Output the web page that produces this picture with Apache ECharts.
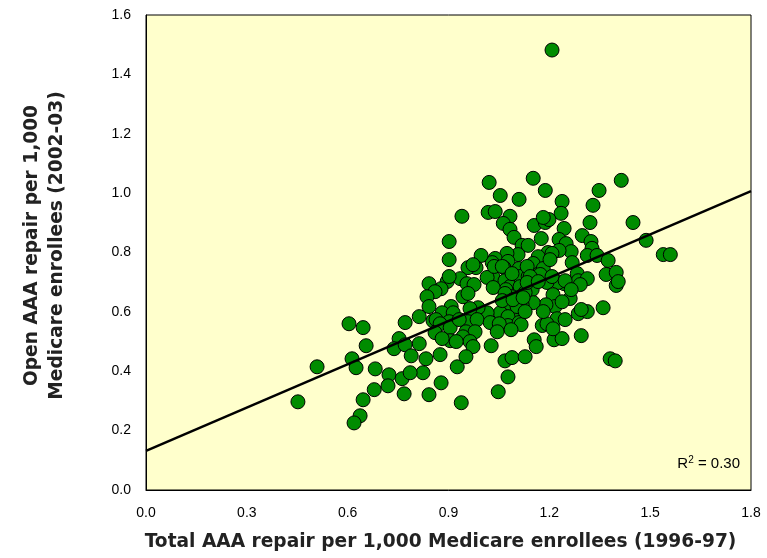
<!DOCTYPE html>
<html>
<head>
<meta charset="utf-8">
<script src="https://cdn.jsdelivr.net/npm/echarts@6/dist/echarts.min.js"></script>
<style>
  html, body { margin: 0; padding: 0; background: #fff; }
  #chart { width: 767px; height: 558px; }
</style>
</head>
<body>
<div id="chart"></div>
<script>
// total AAA repair 1996-97 (x) and open AAA repair 2002-03 (y), per 1,000 enrollees
const totalRepair = [
  1.208, 1.021, 1.152, 1.414, 1.054, 1.110, 1.188, 1.238, 1.348, 1.330,
  1.235, 1.449, 0.940, 1.018, 1.039, 1.083, 1.063, 1.083, 1.155, 1.188,
  1.199, 1.182, 1.244, 1.321, 1.298, 1.095, 1.176, 1.229, 1.119, 1.137,
  1.324, 1.488, 0.902, 1.250, 0.902, 1.327, 1.265, 1.229, 1.196, 1.208,
  1.167, 1.152, 1.107, 1.074, 1.039, 1.030, 0.997, 0.982, 0.958, 1.077,
  1.110, 1.065, 1.033, 1.015, 0.935, 0.896, 0.955, 0.976, 0.878, 0.943,
  1.068, 1.113, 1.137, 1.170, 1.182, 1.268, 1.283, 1.286, 1.313, 1.292,
  1.244, 1.226, 1.193, 1.083, 1.113, 1.071, 1.149, 1.211, 1.262, 1.217,
  1.190, 1.152, 1.119, 1.074, 1.054, 1.104, 1.104, 1.077, 1.015, 0.988,
  0.964, 0.908, 0.958, 0.985, 1.024, 1.077, 1.110, 1.179, 1.223, 1.247,
  1.286, 1.313, 1.089, 1.128, 1.033, 1.313, 1.342, 1.375, 1.369, 1.399,
  1.399, 1.360, 1.539, 1.560, 1.036, 1.060, 0.973, 1.134, 0.842, 0.902,
  1.202, 1.173, 1.143, 1.208, 1.247, 1.405, 0.860, 0.836, 0.958, 0.842,
  0.881, 0.914, 0.813, 0.854, 0.902, 0.771, 0.604, 0.646, 1.089, 1.134,
  1.068, 1.060, 1.092, 1.122, 0.863, 0.875, 0.905, 0.932, 1.051, 0.860,
  0.952, 0.979, 0.905, 0.943, 0.964, 0.973, 0.923, 0.881, 1.027, 1.045,
  0.813, 0.833, 0.875, 0.926, 1.068, 1.089, 1.128, 0.824, 1.077, 0.655,
  0.753, 0.738, 0.771, 0.509, 0.613, 0.625, 0.682, 0.789, 0.952, 0.723,
  0.762, 0.786, 0.878, 0.679, 0.720, 0.768, 0.842, 0.452, 0.646, 0.637,
  0.619, 0.938, 1.048, 1.155, 1.161, 1.214, 1.238, 1.295, 1.193, 1.211,
  1.295, 1.116, 1.086, 1.381, 1.396, 1.167, 1.265, 1.238, 1.182, 1.128
];
const openRepair = [
  1.482, 1.036, 1.050, 1.043, 0.992, 0.979, 1.009, 0.972, 1.009, 0.959,
  0.932, 0.901, 0.922, 0.935, 0.938, 0.922, 0.898, 0.878, 0.891, 0.901,
  0.911, 0.918, 0.881, 0.901, 0.857, 0.851, 0.847, 0.844, 0.824, 0.824,
  0.837, 0.841, 0.837, 0.830, 0.776, 0.814, 0.803, 0.807, 0.800, 0.797,
  0.786, 0.763, 0.793, 0.797, 0.780, 0.766, 0.790, 0.749, 0.749, 0.770,
  0.746, 0.749, 0.716, 0.716, 0.712, 0.702, 0.695, 0.692, 0.678, 0.651,
  0.705, 0.719, 0.719, 0.729, 0.746, 0.766, 0.729, 0.705, 0.712, 0.692,
  0.695, 0.699, 0.699, 0.685, 0.685, 0.675, 0.675, 0.658, 0.645, 0.618,
  0.624, 0.631, 0.624, 0.618, 0.597, 0.591, 0.618, 0.584, 0.597, 0.614,
  0.611, 0.618, 0.567, 0.574, 0.564, 0.554, 0.564, 0.554, 0.577, 0.574,
  0.594, 0.601, 0.651, 0.665, 0.682, 0.790, 0.790, 0.773, 0.726, 0.733,
  0.689, 0.614, 0.793, 0.793, 0.753, 0.753, 0.759, 0.753, 0.695, 0.719,
  0.776, 0.726, 0.719, 0.719, 0.705, 0.702, 0.668, 0.651, 0.662, 0.618,
  0.597, 0.597, 0.584, 0.570, 0.567, 0.564, 0.560, 0.547, 0.729, 0.699,
  0.662, 0.638, 0.641, 0.648, 0.574, 0.560, 0.547, 0.574, 0.560, 0.530,
  0.533, 0.533, 0.503, 0.516, 0.500, 0.483, 0.500, 0.510, 0.486, 0.533,
  0.493, 0.442, 0.456, 0.415, 0.435, 0.446, 0.449, 0.395, 0.381, 0.486,
  0.510, 0.476, 0.489, 0.415, 0.442, 0.412, 0.408, 0.452, 0.449, 0.388,
  0.375, 0.395, 0.361, 0.338, 0.351, 0.324, 0.321, 0.297, 0.304, 0.250,
  0.226, 0.294, 0.331, 0.506, 0.483, 0.506, 0.510, 0.520, 0.560, 0.543,
  0.608, 0.557, 0.540, 0.442, 0.435, 0.702, 0.675, 0.634, 0.601, 0.601
];
// fitted line end points
const fitX = [0, 1.8];
const fitY = [0.132, 1.007];
const rSquared = '0.30';

const points = totalRepair.map((x, i) => [x, openRepair[i]]);
const fitLine = fitX.map((x, i) => [x, fitY[i]]);

const labelFont = { fontFamily: 'Liberation Sans', fontSize: 14, color: '#000' };
const nameFont = { fontFamily: 'DejaVu Sans', fontSize: 18.6, fontWeight: 'bold', color: '#222' };

const chart = echarts.init(document.getElementById('chart'));
chart.setOption({
  animation: false,
  backgroundColor: '#fff',
  grid: {
    left: 146, right: 16, top: 15, bottom: 68,
    show: true, backgroundColor: '#FFFFCC', borderColor: '#000', borderWidth: 1
  },
  xAxis: {
    type: 'value', min: 0, max: 1.8, interval: 0.3,
    name: 'Total AAA repair per 1,000 Medicare enrollees (1996-97)',
    nameLocation: 'middle', nameGap: 43,
    nameTextStyle: Object.assign({ padding: [0, 16, 0, 0] }, nameFont),
    axisLine: { show: true, lineStyle: { color: '#000' } },
    axisTick: { show: false },
    splitLine: { show: false },
    axisLabel: Object.assign({ margin: 16, formatter: v => v.toFixed(1) }, labelFont)
  },
  yAxis: {
    type: 'value', min: 0, max: 1.6, interval: 0.2,
    name: 'Open AAA repair per 1,000\nMedicare enrollees (2002-03)',
    nameLocation: 'middle', nameGap: 76, nameRotate: 90,
    nameTextStyle: Object.assign({ lineHeight: 25, padding: [0, 0, 0, 14] }, nameFont),
    axisLine: { show: true, lineStyle: { color: '#000' } },
    axisTick: { show: false },
    splitLine: { show: false },
    axisLabel: Object.assign({ margin: 15, formatter: v => v.toFixed(1) }, labelFont)
  },
  graphic: [{
    type: 'text', right: 27, top: 455,
    style: {
      text: 'R{sup|2} = ' + rSquared,
      font: '15px "Liberation Sans"', fill: '#000',
      rich: { sup: { fontSize: 10, fontFamily: 'Liberation Sans', padding: [0, 0, 7, 0] } }
    }
  }],
  series: [
    {
      type: 'scatter', data: points, symbolSize: 14, z: 2,
      itemStyle: { color: '#008c00', borderColor: '#000', borderWidth: 1, opacity: 1 }
    },
    {
      type: 'line', data: fitLine, showSymbol: false, z: 3,
      lineStyle: { color: '#000', width: 2.5 }
    }
  ]
});
</script>
</body>
</html>
